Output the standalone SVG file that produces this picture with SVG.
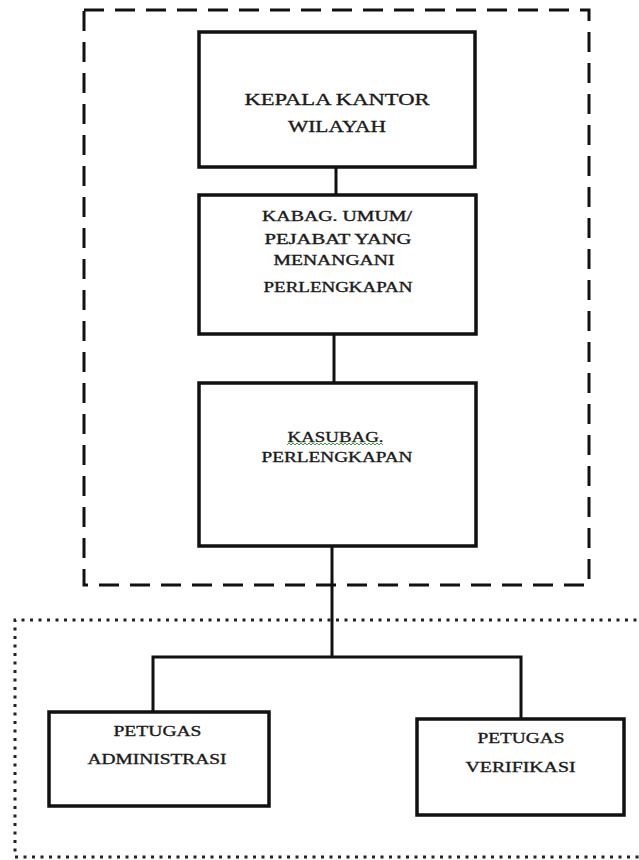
<svg xmlns="http://www.w3.org/2000/svg" width="639" height="860" viewBox="0 0 639 860">
<style>
.box{fill:#fff;stroke:#111;stroke-width:3.5}
.ln{fill:none;stroke:#111;stroke-width:3}
.dash{fill:none;stroke:#111;stroke-width:3;stroke-dasharray:20 11}
.dot{fill:none;stroke:#222;stroke-width:3;stroke-dasharray:3 5.5}
text{font-family:"Liberation Serif","DejaVu Serif",serif;fill:#1a1a1a;stroke:#1a1a1a;stroke-width:0.35;text-anchor:middle}
.t1{font-size:17px}
.t2{font-size:14px}
.t3{font-size:15px}
</style>
<rect width="639" height="860" fill="#fff"/>
<g id="groups">
<rect x="84" y="10" width="505" height="575" class="dash"/>
<path d="M645 620 H15 V857 H645" class="dot"/>
</g>
<g id="connectors">
<line x1="336" y1="167" x2="336" y2="195" class="ln"/>
<line x1="334" y1="334" x2="334" y2="383" class="ln"/>
<line x1="332" y1="546" x2="332" y2="657" class="ln"/>
<polyline points="153,712 153,657 521,657 521,719" class="ln"/>
</g>
<g id="kepala">
<rect x="199" y="32" width="276" height="135" class="box"/>
<text class="t1" x="337" y="105" textLength="185" lengthAdjust="spacingAndGlyphs">KEPALA KANTOR</text>
<text class="t1" x="337" y="132" textLength="98" lengthAdjust="spacingAndGlyphs">WILAYAH</text>
</g>
<g id="kabag">
<rect x="199" y="195" width="277" height="139" class="box"/>
<text class="t2" x="337" y="221" textLength="150" lengthAdjust="spacingAndGlyphs">KABAG. UMUM/</text>
<text class="t2" x="338" y="244" textLength="147" lengthAdjust="spacingAndGlyphs">PEJABAT YANG</text>
<text class="t2" x="334" y="265" textLength="121" lengthAdjust="spacingAndGlyphs">MENANGANI</text>
<text class="t2" x="338" y="292" textLength="149" lengthAdjust="spacingAndGlyphs">PERLENGKAPAN</text>
</g>
<g id="kasubag">
<rect x="199" y="383" width="277" height="163" class="box"/>
<text class="t3" x="335.5" y="442" textLength="96" lengthAdjust="spacingAndGlyphs">KASUBAG.</text>
<path d="M287 445 l2 -2 l2 2 l2 -2 l2 2 l2 -2 l2 2 l2 -2 l2 2 l2 -2 l2 2 l2 -2 l2 2 l2 -2 l2 2 l2 -2 l2 2 l2 -2 l2 2 l2 -2 l2 2 l2 -2 l2 2 l2 -2 l2 2 l2 -2 l2 2 l2 -2 l2 2 l2 -2 l2 2 l2 -2 l2 2 l2 -2 l2 2 l2 -2 l2 2 l2 -2 l2 2 l2 -2 l2 2 l2 -2 l2 2 l2 -2 l2 2 l2 -2 l2 2 l2 -2 l2 2" fill="none" stroke="#3a9a3a" stroke-width="1"/>
<text class="t3" x="337" y="462" textLength="151" lengthAdjust="spacingAndGlyphs">PERLENGKAPAN</text>
</g>
<g id="petugas-administrasi">
<rect x="49" y="712" width="220" height="94" class="box"/>
<text class="t3" x="157.5" y="736" textLength="88" lengthAdjust="spacingAndGlyphs">PETUGAS</text>
<text class="t3" x="157" y="764" textLength="139" lengthAdjust="spacingAndGlyphs">ADMINISTRASI</text>
</g>
<g id="petugas-verifikasi">
<rect x="417" y="719" width="207" height="96" class="box"/>
<text class="t3" x="521" y="743" textLength="87" lengthAdjust="spacingAndGlyphs">PETUGAS</text>
<text class="t3" x="520.5" y="772" textLength="110" lengthAdjust="spacingAndGlyphs">VERIFIKASI</text>
</g>
</svg>
